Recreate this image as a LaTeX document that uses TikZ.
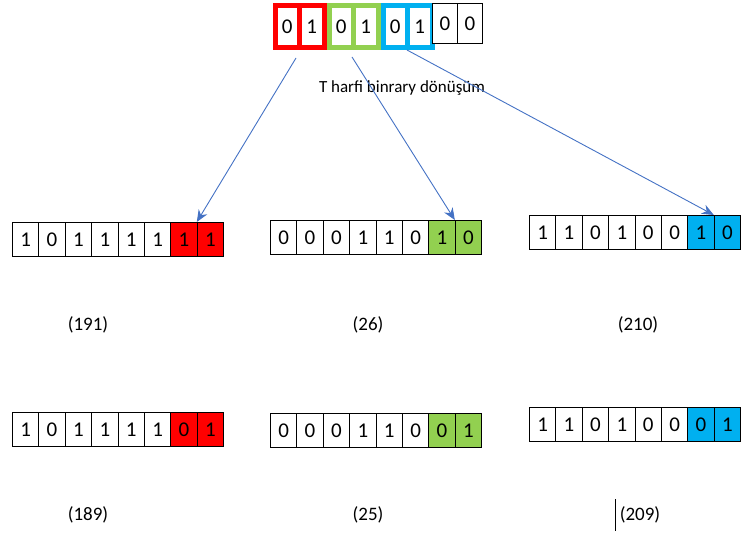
\documentclass[tikz,border=0pt]{standalone}
\usepackage{fontspec}
\setmainfont{Carlito}
\usepackage{tikz}
\usetikzlibrary{positioning, arrows.meta}

\definecolor{arrowblue}{HTML}{4472C4}
\definecolor{bitred}{HTML}{FF0000}
\definecolor{bitgreen}{HTML}{92D050}
\definecolor{bitblue}{HTML}{00B0F0}

\newcommand{\cellfont}{\fontsize{21}{21}\selectfont}
\newcommand{\lblfont}{\fontsize{19}{19}\selectfont}

\tikzset{
    cell/.style={draw, line width=0.9pt, minimum width=26.4pt, minimum height=34pt,
        inner sep=0pt, anchor=north west, fill=white, font=\cellfont},
    framed/.style={cell, line width=5pt, minimum width=24.5pt, minimum height=42pt},
    arrow/.style={-{Stealth[length=12pt,width=10pt]}, draw=arrowblue, line width=0.9pt},
    lbl/.style={font=\lblfont}
}

% one byte: six plain bits, then the two coloured ones
\newcommand{\byterow}[6]{%
    \foreach \b [count=\i] in {#4}
        \node[cell] (#1-\i) at (#2+26.4*\i-26.4,#3) {\b};
    \foreach \b [count=\i from 7] in {#5}
        \node[cell, fill=#6] (#1-\i) at (#2+26.4*\i-26.4,#3) {\b};
}

\begin{document}
\begin{tikzpicture}[x=1pt, y=-1pt]
    \useasboundingbox (0,0) rectangle (742,537);

    % letter T in binary, pairs framed
    \foreach \b/\c/\x [count=\i] in {0/bitred/272.5, 1/bitred/297, 0/bitgreen/326.5,
            1/bitgreen/351, 0/bitblue/380.5, 1/bitblue/405}
        \node[framed, draw=\c] (t-\i) at (\x,3.5) {\b};
    \node[cell, minimum width=25pt, minimum height=40pt] (t-7) at (432,3) {0};
    \node[cell, minimum width=25pt, minimum height=40pt] (t-8) at (457,3) {0};
    \node[lbl, font=\fontsize{17}{17}\selectfont] (title) at (402,88) {T harfi binrary dönüşüm};

    % pixel values before
    \byterow{a}{12}{222}{1,0,1,1,1,1}{1,1}{bitred}
    \byterow{b}{270}{220}{0,0,0,1,1,0}{1,0}{bitgreen}
    \byterow{c}{529}{215}{1,1,0,1,0,0}{1,0}{bitblue}
    \node[lbl] (va) at (88,325) {(191)};
    \node[lbl] (vb) at (368,325) {(26)};
    \node[lbl] (vc) at (638,325) {(210)};

    % pixel values after
    \byterow{d}{12}{412}{1,0,1,1,1,1}{0,1}{bitred}
    \byterow{e}{270}{413}{0,0,0,1,1,0}{0,1}{bitgreen}
    \byterow{f}{529}{407}{1,1,0,1,0,0}{0,1}{bitblue}
    \node[lbl] (vd) at (88,515) {(189)};
    \node[lbl] (ve) at (368,515) {(25)};
    \node[lbl] (vf) at (640,515) {(209)};
    \draw[line width=0.7pt] (vf.west) ++(-1,-16) -- ++(0,32);

    % where each bit pair goes
    \coordinate (s1) at (296,58);
    \coordinate (s2) at (352,57);
    \coordinate (s3) at (407,50);
    \draw[arrow] (s1) -- (a-8.north west);
    \draw[arrow] (s2) -- (b-8.north west);
    \draw[arrow] (s3) -- (c-8.north west);
\end{tikzpicture}
\end{document}
